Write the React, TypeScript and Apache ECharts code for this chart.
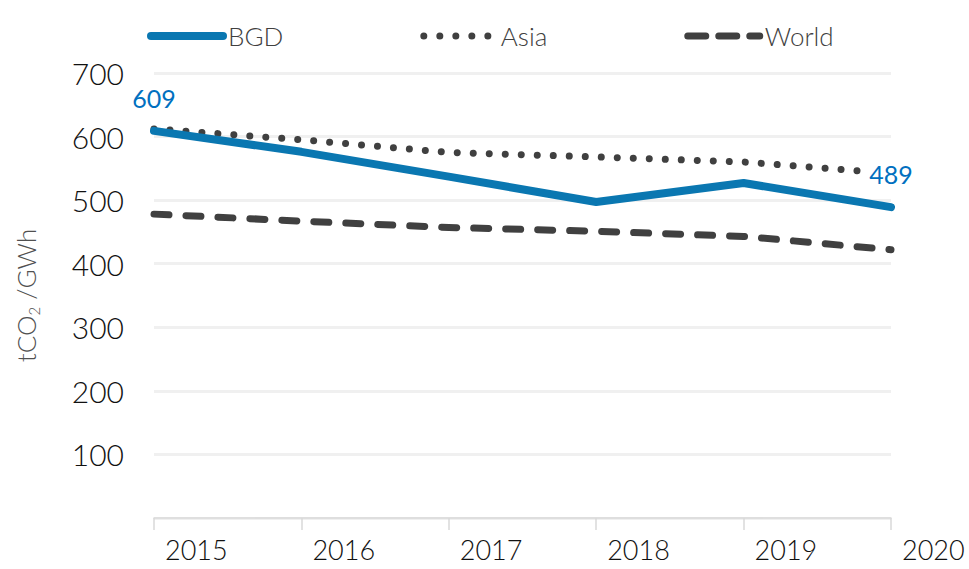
import { useEffect, useRef } from 'react';
import * as echarts from 'echarts';

const years = ['2015', '2016', '2017', '2018', '2019', '2020'];
const bgd = [609, 576, 537, 497, 527, 489];
const asia = [612, 595, 575, 568, 560, 542];
const world = [478, 467, 457, 451, 443, 422];
const yMin = 0;
const yMax = 700;
const yStep = 100;

const FONT = "Lato, 'Open Sans', sans-serif";
const BLUE = '#0a77b1';
const DARK = '#404040';

export default function App() {
  const ref = useRef<HTMLDivElement>(null);
  useEffect(() => {
    const chart = echarts.init(ref.current!, null, { renderer: 'svg' });
    chart.setOption({
      animation: false,
      backgroundColor: '#ffffff',
      grid: { left: 154, right: 78, top: 73, bottom: 51, containLabel: false },
      legend: {
        left: 142,
        top: 18,
        itemWidth: 72,
        itemHeight: 10,
        itemGap: 137,
        itemStyle: { opacity: 0 },
        textStyle: { fontFamily: FONT, fontSize: 26, fontWeight: 300, color: DARK },
        data: [
          { name: 'BGD', lineStyle: { width: 8, color: BLUE, type: 'solid', cap: 'round' } },
          { name: 'Asia', lineStyle: { width: 7, color: DARK, type: [0.01, 16], cap: 'round' } },
          { name: 'World', lineStyle: { width: 7, color: DARK, type: [18, 13], cap: 'round' } },
        ],
      },
      xAxis: {
        type: 'category',
        data: years,
        boundaryGap: false,
        axisLine: { show: true, lineStyle: { color: '#d9d9d9', width: 1.5 } },
        axisTick: { show: true, length: 12, interval: 0, lineStyle: { color: '#d9d9d9', width: 1.5 } },
        axisLabel: {
          interval: 0,
          align: 'left',
          padding: [0, 0, 0, 11],
          margin: 18,
          fontFamily: FONT,
          fontSize: 27,
          fontWeight: 300,
          color: '#111',
        },
        splitLine: { show: false },
      },
      yAxis: {
        type: 'value',
        min: yMin,
        max: yMax,
        interval: yStep,
        axisLine: { show: false },
        axisTick: { show: false },
        axisLabel: {
          margin: 30,
          fontFamily: FONT,
          fontSize: 30,
          fontWeight: 300,
          color: '#111',
          formatter: (v: number) => (v === 0 ? '' : String(v)),
        },
        splitLine: {
          show: true,
          lineStyle: { color: '#f0f0f0', width: 3 },
        },
        name: '{a|tCO}{b|2}{a| /GWh}',
        nameLocation: 'middle',
        nameRotate: 90,
        nameGap: 112,
        nameTextStyle: {
          rich: {
            a: { fontFamily: FONT, fontSize: 26, fontWeight: 300, color: '#505050', lineHeight: 32 },
            b: { fontFamily: FONT, fontSize: 15, fontWeight: 300, color: '#505050', lineHeight: 32, padding: [15, 0, 0, 0] },
          },
        },
      },
      series: [
        {
          name: 'BGD',
          type: 'line',
          data: bgd.map((v, i) =>
            i === 0 || i === bgd.length - 1 ? { value: v, label: { show: true } } : v
          ),
          symbol: 'circle',
          symbolSize: 1,
          itemStyle: { color: BLUE },
          lineStyle: { width: 8, color: BLUE, cap: 'round', join: 'round' },
          label: {
            show: false,
            position: 'top',
            distance: 20,
            fontFamily: FONT,
            fontSize: 25,
            color: '#0070c0',
            backgroundColor: '#ffffff',
            padding: [0, 6, 0, 6],
          },
          z: 3,
        },
        {
          name: 'Asia',
          type: 'line',
          data: asia,
          symbol: 'none',
          itemStyle: { color: DARK },
          lineStyle: { width: 7, color: DARK, type: [0.01, 16], cap: 'round', join: 'round' },
          z: 2,
        },
        {
          name: 'World',
          type: 'line',
          data: world,
          symbol: 'none',
          itemStyle: { color: DARK },
          lineStyle: { width: 7, color: DARK, type: [15, 17], cap: 'round', join: 'round' },
          z: 2,
        },
      ],
    });
    return () => chart.dispose();
  }, []);
  return (
    <div
      ref={ref}
      style={{ position: 'absolute', left: 0, top: 0, width: 969, height: 569, background: '#fff' }}
    />
  );
}
